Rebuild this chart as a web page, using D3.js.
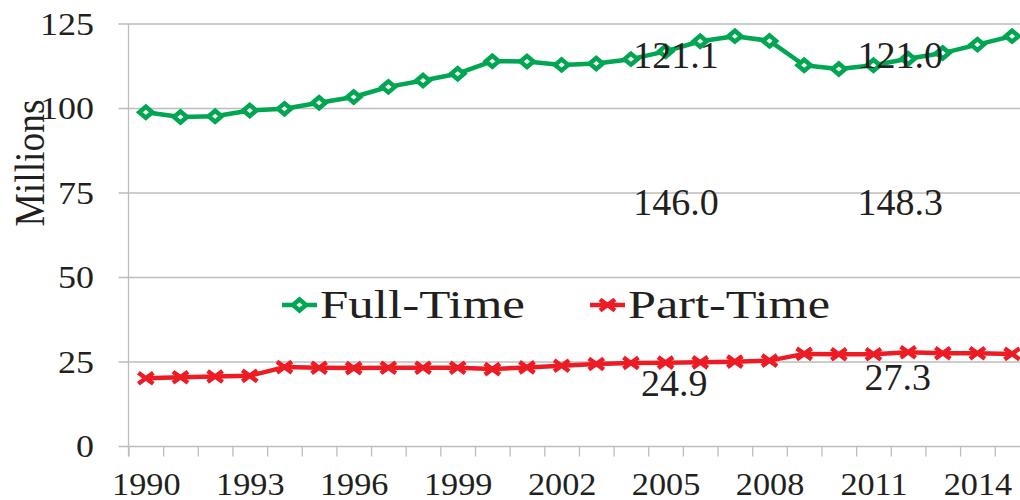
<!DOCTYPE html>
<html>
<head>
<meta charset="utf-8">
<script src="https://cdn.jsdelivr.net/npm/d3@7"></script>
<style>
  html, body { margin: 0; padding: 0; background: #fff; }
  svg { display: block; }
  text { font-family: "Liberation Serif", "Times New Roman", serif; fill: #231f20; }
</style>
</head>
<body>
<svg id="chart" width="1020" height="500"></svg>
<script>
// ---- data ----
const years = d3.range(1990, 2016);
const fullTime = [98.9, 97.5, 97.7, 99.4, 99.9, 101.7, 103.4, 106.4, 108.3, 110.3,
                  114.0, 113.9, 112.9, 113.3, 114.6, 116.9, 119.9, 121.4, 120.0, 112.8,
                  111.7, 112.8, 114.7, 116.4, 118.9, 121.4];
const partTime = [20.2, 20.5, 20.7, 20.9, 23.5, 23.3, 23.2, 23.3, 23.3, 23.3,
                  22.9, 23.4, 23.9, 24.4, 24.7, 24.8, 24.9, 25.1, 25.4, 27.4,
                  27.3, 27.3, 27.9, 27.6, 27.6, 27.4];
const yTicks = [0, 25, 50, 75, 100, 125];
const xLabelYears = [1990, 1993, 1996, 1999, 2002, 2005, 2008, 2011, 2014];
const seriesNames = ["Full-Time", "Part-Time"];
const annoText = ["121.1", "146.0", "24.9", "121.0", "148.3", "27.3"];
const annoYear = [2005.3, 2005.3, 2005.25, 2011.77, 2011.77, 2011.7];
const annoValue = [112.0, 68.6, 15.0, 112.0, 68.6, 16.7];

// ---- layout ----
const svg = d3.select("#chart");
const plotLeft = 128.5, plotTop = 24, plotBottom = 446.5;
const step = 34.65;
const plotRight = plotLeft + years.length * step;

const x = d3.scaleLinear().domain([1989.5, 2015.5]).range([plotLeft, plotRight]);
const y = d3.scaleLinear().domain([0, 125]).range([plotBottom, plotTop]);

const green = "#00a651", red = "#ed1c24", grid = "#bdbdbd";

function stretch(sel, k) {
  sel.each(function () {
    const w = this.getComputedTextLength();
    d3.select(this).attr("textLength", w * k).attr("lengthAdjust", "spacingAndGlyphs");
  });
}

// gridlines
svg.append("g").selectAll("line").data(yTicks).join("line")
  .attr("x1", plotLeft - 10).attr("x2", 1020)
  .attr("y1", d => y(d)).attr("y2", d => y(d))
  .attr("stroke", grid).attr("stroke-width", 1.3);

// y axis line
svg.append("line").attr("x1", plotLeft).attr("x2", plotLeft)
  .attr("y1", y(125)).attr("y2", plotBottom + 10)
  .attr("stroke", grid).attr("stroke-width", 1.3);

// y tick labels
svg.append("g").selectAll("text").data(yTicks).join("text")
  .attr("x", 94).attr("y", d => y(d))
  .attr("text-anchor", "end").attr("dominant-baseline", "central")
  .attr("font-size", 31)
  .text(d => d)
  .call(stretch, 1.16);

// x axis tick marks (between categories)
const xTickAxis = d3.axisBottom(x)
  .tickValues(d3.range(1989.5, 2016, 1))
  .tickSize(10).tickSizeOuter(0).tickFormat("");
const gxt = svg.append("g").attr("transform", `translate(0,${plotBottom})`).call(xTickAxis);
gxt.select(".domain").remove();
gxt.selectAll("line").attr("stroke", grid).attr("stroke-width", 1.3);

// x labels
const xLabAxis = d3.axisBottom(x).tickValues(xLabelYears).tickSize(0).tickFormat(d3.format("d"));
const gxl = svg.append("g").attr("transform", `translate(0,${plotBottom})`).call(xLabAxis);
gxl.select(".domain").remove();
gxl.selectAll("text").attr("font-size", 32).attr("dy", 0).attr("y", 48)
  .attr("font-family", '"Liberation Serif", serif').attr("fill", "#231f20")
  .call(stretch, 1.07);

// y title
svg.append("text")
  .attr("transform", "translate(44,163) rotate(-90)")
  .attr("text-anchor", "middle").attr("font-size", 42)
  .attr("textLength", 127).attr("lengthAdjust", "spacingAndGlyphs")
  .text("Millions");

// lines
const line = d3.line().x((d, i) => x(years[i])).y(d => y(d));
svg.append("path").datum(fullTime).attr("d", line)
  .attr("fill", "none").attr("stroke", green).attr("stroke-width", 4.5).attr("stroke-linejoin", "round");
svg.append("path").datum(partTime).attr("d", line)
  .attr("fill", "none").attr("stroke", red).attr("stroke-width", 4.5).attr("stroke-linejoin", "round");

const diamond = "M0,-5.5L6.5,0L0,5.5L-6.5,0Z";
const cross = "M-7.5,-5.5L7.5,5.5M-7.5,5.5L7.5,-5.5";

svg.append("g").selectAll("path").data(fullTime).join("path")
  .attr("transform", (d, i) => `translate(${x(years[i])},${y(d)})`)
  .attr("d", diamond).attr("fill", "#fff").attr("stroke", green).attr("stroke-width", 4.5);
svg.append("g").selectAll("path").data(partTime).join("path")
  .attr("transform", (d, i) => `translate(${x(years[i])},${y(d)})`)
  .attr("d", cross).attr("fill", "none").attr("stroke", red).attr("stroke-width", 4.5);

// annotations
svg.append("g").selectAll("text").data(annoText).join("text")
  .attr("x", (d, i) => x(annoYear[i])).attr("y", (d, i) => y(annoValue[i]))
  .attr("text-anchor", "middle").attr("font-size", 38)
  .text(d => d);

// legend
const legend = svg.append("g");
const legItems = [
  { name: seriesNames[0], color: green, shape: diamond, lx: 282, tx: 320, len: 205, fill: "#fff", sw: 4.5 },
  { name: seriesNames[1], color: red, shape: cross, lx: 590, tx: 628, len: 202, fill: "none", sw: 4.5 }
];
legItems.forEach(it => {
  legend.append("line").attr("x1", it.lx).attr("x2", it.lx + 35)
    .attr("y1", 305).attr("y2", 305).attr("stroke", it.color).attr("stroke-width", 4.5);
  legend.append("path").attr("transform", `translate(${it.lx + 17.5},305)`)
    .attr("d", it.shape).attr("fill", it.fill).attr("stroke", it.color).attr("stroke-width", it.sw);
  legend.append("text").attr("x", it.tx).attr("y", 318).attr("font-size", 39)
    .attr("textLength", it.len).attr("lengthAdjust", "spacingAndGlyphs")
    .text(it.name);
});
</script>
</body>
</html>
